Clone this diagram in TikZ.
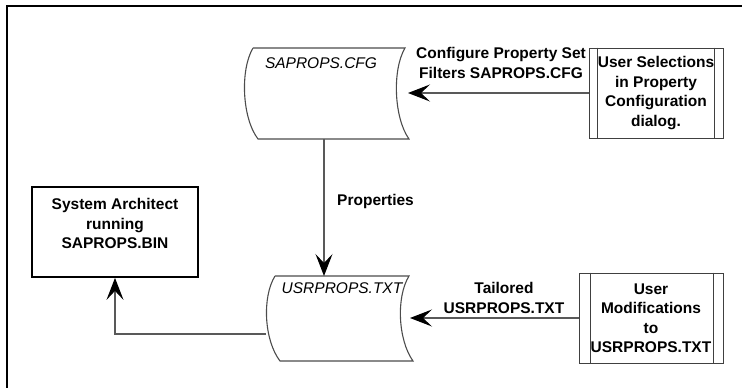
\documentclass[tikz,border=0pt]{standalone}
\usepackage{fontspec}
\setmainfont{Liberation Sans}
\usetikzlibrary{arrows.meta}

\tikzset{
	lbl/.style={font=\fontsize{15.5}{19.5}\selectfont\bfseries, align=center, inner sep=0},
	storelbl/.style={font=\fontsize{15.5}{19}\selectfont\itshape, inner sep=0},
	procbox/.style={lbl, draw=black!75, line width=1pt, inner sep=3pt},
	archbox/.style={draw=black, line width=1.8pt},
	storeline/.style={draw=black!70, line width=1.1pt},
	flow/.style={draw=black!65, line width=1.1pt, -{Stealth[length=22pt,width=17pt,inset=9pt,black]}},
}

\begin{document}
\begin{tikzpicture}[x=1pt, y=-1pt]
			%%%%% START %%%%%
			\useasboundingbox (0,0) rectangle (742,388);
			
			% outer frame
			\draw[line width=2.5pt] (7,400) |- (760,6);
			
			% data stores
			\draw[storeline] (253,48) -- (405,48) .. controls (392,70) and (394,118) .. (409,139) -- (258,139) .. controls (242,118) and (240,70) .. (253,48);
			\node[storelbl] (cfg) at (321,63) {SAPROPS.CFG};
			\coordinate (cfgin) at (408,93);
			\coordinate (cfgout) at (324,139);
			
			\draw[storeline] (275,276) -- (409,276) .. controls (396,297) and (398,340) .. (413,361) -- (280,361) .. controls (264,340) and (262,297) .. (275,276);
			\node[storelbl] (usr) at (342,288) {USRPROPS.TXT};
			\coordinate (usrtop) at (324,276);
			\coordinate (usrin) at (410,318);
			\coordinate (usrout) at (266,334);
			
			% processes
			\node[archbox, minimum width=166, minimum height=90] (arch) at (115,232) {};
			\node[lbl] (archtext) at (115,223.5) {System Architect\\running\\SAPROPS.BIN};
			
			\node[procbox, minimum width=134, minimum height=90] (sel) at (656,93) {User Selections\\in Property\\Configuration\\dialog.};
			\draw[draw=black!75, line width=1pt] ([xshift=9pt]sel.north west) -- ([xshift=9pt]sel.south west);
			\draw[draw=black!75, line width=1pt] ([xshift=-9pt]sel.north east) -- ([xshift=-9pt]sel.south east);
			
			\node[procbox, minimum width=144, minimum height=90] (mod) at (651,318) {User\\Modifications\\to\\USRPROPS.TXT};
			\draw[draw=black!75, line width=1pt] ([xshift=12pt]mod.north west) -- ([xshift=12pt]mod.south west);
			\draw[draw=black!75, line width=1pt] ([xshift=-10pt]mod.north east) -- ([xshift=-10pt]mod.south east);
			
			% flows
			\draw[flow] (sel.west) -- (cfgin);
			\node[lbl] (cfgnote) at (501,63) {Configure Property Set\\Filters SAPROPS.CFG};
			
			\draw[flow] (cfgout) -- (usrtop);
			\node[lbl, anchor=west] (props) at (337,201) {Properties};
			
			\draw[flow] (mod.west) -- (usrin);
			\node[lbl] (usrnote) at (504,298) {Tailored\\USRPROPS.TXT};
			
			\draw[flow] (usrout) -| (arch.south);
			%%%%% END %%%%%
\end{tikzpicture}
\end{document}
